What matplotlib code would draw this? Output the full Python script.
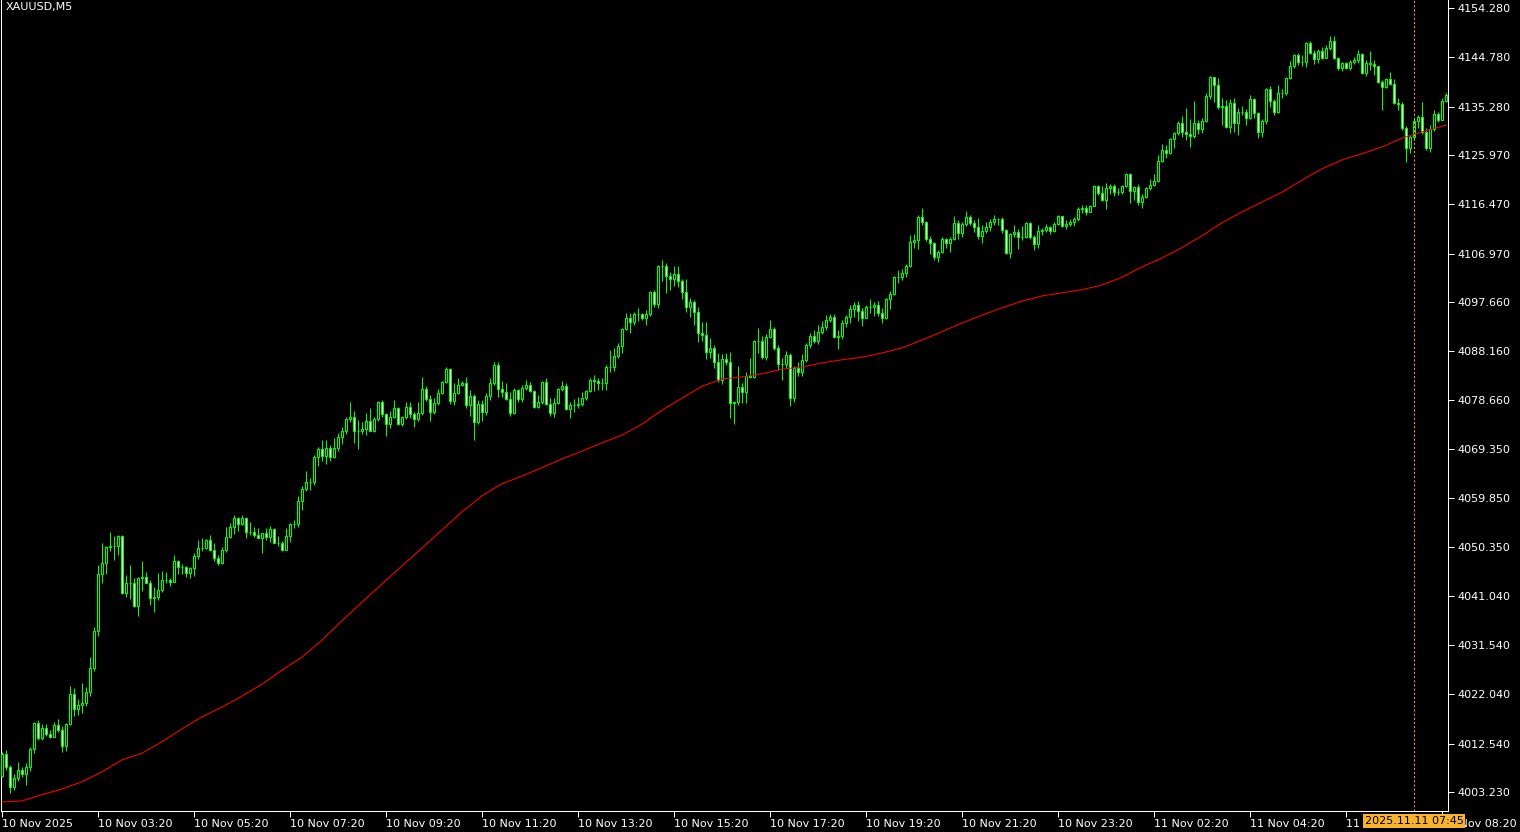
import numpy as np
import matplotlib
matplotlib.use("Agg")
import matplotlib.pyplot as plt
from matplotlib import transforms

# XAUUSD M5, 10 Nov 2025 01:20 -> 11 Nov 2025 08:25 (one value per bar)
first_open = 4006.3

closes = [
    4010.5, 4008.0, 4004.2, 4005.9, 4007.5, 4006.7, 4008.0, 4011.5, 4016.5, 4013.6,
    4015.6, 4014.4, 4013.8, 4016.1, 4015.2, 4012.1, 4016.3, 4022.1, 4019.2, 4020.0,
    4020.4, 4022.5, 4027.1, 4034.2, 4045.2, 4047.3, 4050.4, 4050.6, 4050.6, 4052.5,
    4041.6, 4043.5, 4043.5, 4039.1, 4044.5, 4044.6, 4043.5, 4040.6, 4040.8, 4042.1,
    4044.1, 4044.1, 4043.7, 4047.7, 4046.6, 4046.6, 4045.4, 4046.4, 4048.7, 4050.2,
    4050.2, 4051.8, 4049.9, 4048.3, 4047.3, 4049.9, 4052.4, 4054.3, 4056.0, 4054.9,
    4056.0, 4053.3, 4053.3, 4052.7, 4052.2, 4053.1, 4052.4, 4053.9, 4051.2, 4051.2,
    4049.9, 4052.5, 4054.9, 4054.9, 4059.3, 4061.6, 4063.0, 4063.0, 4067.8, 4069.3,
    4068.0, 4069.5, 4067.8, 4069.5, 4071.6, 4072.8, 4075.1, 4075.5, 4072.8, 4072.8,
    4073.2, 4074.7, 4072.8, 4075.1, 4078.4, 4076.1, 4074.1, 4075.5, 4077.2, 4074.1,
    4075.5, 4077.4, 4076.1, 4075.1, 4076.2, 4080.9, 4078.9, 4076.4, 4078.2, 4080.1,
    4082.2, 4084.7, 4078.6, 4080.1, 4081.6, 4082.0, 4077.8, 4079.5, 4074.5, 4078.0,
    4076.4, 4079.5, 4082.0, 4085.5, 4080.9, 4080.3, 4078.9, 4076.2, 4080.7, 4078.9,
    4081.1, 4081.6, 4080.5, 4077.4, 4078.4, 4082.2, 4078.0, 4076.2, 4078.2, 4080.9,
    4081.4, 4077.0, 4077.8, 4077.8, 4078.0, 4079.1, 4080.5, 4082.6, 4082.4, 4082.0,
    4082.0, 4085.1, 4085.1, 4087.2, 4089.1, 4092.4, 4094.6, 4093.8, 4095.3, 4095.3,
    4094.6, 4095.3, 4099.6, 4097.2, 4104.6, 4104.6, 4102.6, 4102.1, 4103.0, 4101.7,
    4099.6, 4096.7, 4097.6, 4095.7, 4091.7, 4091.3, 4088.0, 4088.8, 4086.1, 4082.6,
    4086.6, 4086.1, 4078.2, 4078.4, 4081.3, 4080.3, 4083.4, 4083.2, 4090.1, 4090.1,
    4087.0, 4090.9, 4092.4, 4088.8, 4085.7, 4085.7, 4087.4, 4079.1, 4084.9, 4084.2,
    4086.5, 4089.3, 4091.1, 4090.1, 4091.9, 4092.8, 4094.2, 4094.7, 4090.9, 4091.1,
    4093.6, 4094.7, 4096.3, 4097.1, 4095.9, 4094.6, 4096.7, 4096.7, 4097.1, 4095.5,
    4094.6, 4098.2, 4099.2, 4102.4, 4102.4, 4103.2, 4104.6, 4109.2, 4109.6, 4114.0,
    4113.1, 4109.8, 4109.0, 4106.3, 4107.3, 4109.8, 4109.0, 4109.8, 4112.9, 4111.0,
    4112.7, 4114.0, 4112.9, 4112.1, 4110.4, 4111.3, 4112.1, 4113.1, 4113.6, 4113.6,
    4111.5, 4107.1, 4110.7, 4111.1, 4110.2, 4110.2, 4112.9, 4110.2, 4108.8, 4111.3,
    4111.5, 4112.1, 4111.3, 4112.7, 4114.2, 4112.3, 4112.7, 4113.1, 4113.6, 4115.6,
    4115.7, 4115.0, 4116.1, 4120.0, 4118.6, 4117.3, 4119.6, 4120.0, 4118.8, 4118.8,
    4120.0, 4122.3, 4119.0, 4119.8, 4116.9, 4117.9, 4119.6, 4120.2, 4121.0, 4124.8,
    4126.9, 4126.3, 4129.0, 4130.2, 4132.1, 4130.4, 4130.0, 4129.6, 4132.1, 4131.0,
    4132.5, 4137.3, 4141.0, 4139.4, 4135.2, 4135.4, 4131.3, 4136.0, 4132.1, 4134.2,
    4134.2, 4133.1, 4136.7, 4134.0, 4130.4, 4132.5, 4138.7, 4136.4, 4134.2, 4137.9,
    4137.9, 4140.8, 4143.1, 4145.2, 4143.9, 4143.9, 4147.5, 4145.6, 4144.5, 4146.0,
    4144.6, 4146.6, 4147.9, 4144.6, 4142.7, 4143.7, 4142.7, 4143.9, 4144.3, 4145.4,
    4141.8, 4143.7, 4143.5, 4143.1, 4140.0, 4139.1, 4140.6, 4139.6, 4136.0, 4135.8,
    4131.2, 4127.3, 4129.4, 4132.5, 4133.3, 4130.4, 4127.3, 4131.0, 4133.9, 4132.7,
    4136.4, 4137.5,
]

highs = [
    4010.9, 4011.3, 4008.4, 4006.7, 4009.0, 4008.0, 4008.8, 4011.9, 4016.7, 4017.1,
    4016.3, 4016.3, 4015.2, 4016.7, 4017.3, 4015.9, 4016.5, 4023.7, 4023.3, 4021.1,
    4024.2, 4023.5, 4029.2, 4035.0, 4047.0, 4051.2, 4050.6, 4053.3, 4052.5, 4052.7,
    4052.7, 4045.0, 4047.0, 4044.5, 4044.6, 4047.7, 4045.6, 4044.1, 4042.7, 4045.4,
    4045.8, 4045.6, 4044.5, 4048.9, 4047.9, 4047.2, 4046.8, 4046.6, 4049.3, 4051.8,
    4052.2, 4052.0, 4052.7, 4051.2, 4048.9, 4050.4, 4054.3, 4055.1, 4056.6, 4056.2,
    4056.6, 4056.2, 4055.2, 4054.3, 4054.1, 4053.1, 4054.1, 4054.5, 4054.1, 4052.5,
    4051.6, 4054.1, 4055.1, 4055.6, 4060.3, 4062.2, 4065.1, 4063.7, 4068.2, 4069.7,
    4071.0, 4071.0, 4070.1, 4071.4, 4072.4, 4073.5, 4075.5, 4078.4, 4076.6, 4074.9,
    4074.5, 4076.2, 4077.2, 4075.5, 4078.6, 4078.8, 4076.2, 4076.6, 4078.8, 4077.4,
    4075.7, 4078.4, 4078.4, 4076.4, 4078.4, 4083.2, 4081.5, 4079.7, 4079.1, 4080.9,
    4082.4, 4085.1, 4084.9, 4082.0, 4083.0, 4082.4, 4083.2, 4080.7, 4079.9, 4078.8,
    4078.8, 4080.1, 4083.0, 4086.1, 4086.1, 4082.4, 4082.0, 4080.3, 4081.1, 4080.9,
    4081.6, 4082.6, 4082.2, 4080.7, 4079.7, 4082.4, 4083.0, 4079.1, 4079.1, 4081.1,
    4082.4, 4082.0, 4078.4, 4078.9, 4079.3, 4080.3, 4080.7, 4083.0, 4083.6, 4083.0,
    4083.0, 4085.5, 4088.4, 4088.8, 4089.7, 4092.6, 4095.5, 4095.5, 4095.7, 4096.5,
    4095.5, 4096.1, 4099.8, 4099.9, 4104.8, 4105.7, 4105.2, 4103.4, 4104.6, 4104.6,
    4102.1, 4102.1, 4098.4, 4098.0, 4096.7, 4093.8, 4093.8, 4090.7, 4089.4, 4087.8,
    4087.6, 4087.8, 4088.0, 4078.6, 4085.3, 4082.0, 4084.2, 4086.8, 4090.3, 4092.6,
    4091.1, 4091.5, 4094.2, 4092.8, 4089.4, 4086.8, 4088.2, 4087.8, 4085.3, 4086.1,
    4087.6, 4089.7, 4091.7, 4092.2, 4093.2, 4094.0, 4095.1, 4095.3, 4095.3, 4092.2,
    4094.2, 4095.1, 4097.1, 4097.6, 4097.8, 4096.5, 4097.1, 4098.2, 4097.6, 4097.8,
    4096.5, 4098.4, 4099.8, 4102.6, 4103.8, 4104.0, 4104.9, 4110.5, 4110.7, 4114.4,
    4115.7, 4113.2, 4110.3, 4109.2, 4107.7, 4110.2, 4110.0, 4110.2, 4114.2, 4113.4,
    4113.1, 4115.2, 4114.4, 4113.4, 4113.8, 4112.5, 4113.1, 4113.6, 4114.4, 4113.8,
    4114.0, 4111.7, 4110.9, 4112.5, 4111.7, 4112.3, 4113.1, 4113.1, 4110.5, 4112.5,
    4111.9, 4112.7, 4112.3, 4113.1, 4114.4, 4114.2, 4113.4, 4113.6, 4114.0, 4115.9,
    4116.3, 4116.3, 4116.3, 4120.2, 4120.2, 4120.0, 4120.6, 4120.4, 4120.4, 4119.6,
    4120.2, 4122.5, 4122.5, 4120.0, 4120.4, 4118.4, 4119.8, 4121.3, 4122.3, 4125.9,
    4128.1, 4127.9, 4129.2, 4130.4, 4132.5, 4133.5, 4135.0, 4132.9, 4136.4, 4132.7,
    4133.1, 4137.9, 4141.2, 4141.0, 4140.8, 4136.9, 4136.6, 4136.7, 4136.9, 4135.0,
    4135.4, 4134.8, 4137.5, 4136.9, 4134.2, 4132.9, 4138.9, 4139.3, 4136.7, 4139.4,
    4138.7, 4141.0, 4144.1, 4145.4, 4145.6, 4145.2, 4147.7, 4147.9, 4146.2, 4146.4,
    4146.8, 4147.1, 4148.9, 4148.9, 4144.8, 4143.9, 4143.9, 4144.3, 4144.8, 4146.2,
    4145.6, 4144.3, 4146.0, 4144.3, 4143.1, 4140.4, 4140.8, 4141.9, 4140.6, 4136.9,
    4136.2, 4131.5, 4129.8, 4133.1, 4133.7, 4136.2, 4131.2, 4131.7, 4134.6, 4134.2,
    4136.9, 4137.9,
]

lows = [
    4006.1, 4007.5, 4003.0, 4003.6, 4005.3, 4006.1, 4004.6, 4007.3, 4010.7, 4013.2,
    4013.2, 4014.0, 4013.6, 4013.8, 4014.8, 4010.9, 4011.1, 4016.1, 4017.9, 4018.1,
    4018.4, 4019.8, 4021.7, 4026.5, 4033.3, 4043.5, 4045.2, 4049.7, 4047.9, 4048.9,
    4041.4, 4040.8, 4040.4, 4038.9, 4037.1, 4041.9, 4043.5, 4039.2, 4037.9, 4040.2,
    4041.8, 4043.5, 4042.9, 4043.7, 4045.2, 4045.2, 4044.6, 4044.5, 4044.8, 4048.1,
    4049.7, 4050.0, 4049.7, 4047.7, 4047.0, 4047.2, 4049.5, 4052.2, 4052.9, 4053.5,
    4054.7, 4052.2, 4052.7, 4052.4, 4052.2, 4049.3, 4051.8, 4051.4, 4051.2, 4050.6,
    4049.7, 4049.9, 4051.4, 4054.1, 4054.3, 4057.6, 4061.2, 4061.4, 4062.4, 4066.0,
    4067.0, 4066.4, 4067.0, 4067.6, 4068.9, 4070.3, 4072.2, 4074.5, 4070.5, 4069.3,
    4072.2, 4072.0, 4072.8, 4072.6, 4074.7, 4075.5, 4071.8, 4073.4, 4075.3, 4073.9,
    4073.7, 4075.1, 4075.3, 4073.5, 4074.7, 4075.9, 4078.6, 4074.7, 4076.1, 4077.8,
    4079.9, 4082.0, 4078.0, 4077.8, 4079.9, 4081.4, 4077.2, 4075.7, 4071.0, 4074.1,
    4074.7, 4075.9, 4078.8, 4081.6, 4079.3, 4079.3, 4078.8, 4075.7, 4076.1, 4078.4,
    4078.4, 4080.7, 4080.3, 4077.2, 4077.2, 4078.0, 4077.8, 4075.7, 4075.5, 4078.0,
    4080.5, 4076.8, 4075.3, 4076.4, 4077.2, 4077.6, 4078.8, 4080.3, 4080.5, 4080.7,
    4080.7, 4080.7, 4084.2, 4084.3, 4086.8, 4087.8, 4092.2, 4091.7, 4093.2, 4094.0,
    4094.2, 4093.2, 4094.9, 4096.7, 4096.5, 4101.7, 4099.4, 4100.0, 4100.7, 4100.5,
    4098.2, 4095.7, 4094.7, 4093.2, 4089.9, 4090.1, 4086.6, 4086.8, 4084.9, 4082.2,
    4081.8, 4085.5, 4075.3, 4074.1, 4077.8, 4078.2, 4078.2, 4083.0, 4083.0, 4087.8,
    4086.6, 4086.5, 4090.7, 4088.4, 4084.5, 4082.6, 4084.9, 4077.6, 4078.4, 4083.4,
    4083.4, 4086.1, 4088.8, 4089.7, 4089.5, 4091.5, 4092.2, 4093.8, 4090.7, 4088.6,
    4090.5, 4092.8, 4093.6, 4094.7, 4094.0, 4093.0, 4094.6, 4095.5, 4094.9, 4094.9,
    4093.6, 4094.4, 4096.3, 4099.0, 4101.3, 4101.9, 4102.4, 4104.4, 4108.0, 4107.8,
    4112.5, 4109.4, 4106.9, 4105.7, 4105.3, 4107.1, 4108.0, 4107.3, 4109.6, 4109.8,
    4110.2, 4112.3, 4112.5, 4111.1, 4109.8, 4109.0, 4110.9, 4111.3, 4112.5, 4112.5,
    4110.9, 4106.9, 4106.1, 4110.2, 4107.8, 4109.6, 4110.0, 4109.8, 4107.7, 4108.0,
    4110.5, 4111.1, 4110.7, 4111.1, 4112.5, 4112.1, 4111.7, 4112.3, 4112.3, 4113.2,
    4114.8, 4114.4, 4115.7, 4116.1, 4118.3, 4117.1, 4115.6, 4118.4, 4118.0, 4118.3,
    4118.4, 4119.8, 4116.7, 4117.3, 4116.3, 4115.7, 4117.7, 4119.2, 4120.0, 4120.8,
    4124.6, 4125.4, 4126.1, 4127.3, 4129.8, 4129.4, 4128.8, 4127.5, 4129.2, 4130.0,
    4130.2, 4132.3, 4136.7, 4136.2, 4134.8, 4131.7, 4131.2, 4130.2, 4130.4, 4129.8,
    4133.7, 4131.7, 4132.9, 4133.1, 4129.2, 4129.4, 4131.9, 4135.2, 4133.7, 4134.0,
    4136.9, 4137.5, 4140.6, 4142.7, 4143.3, 4143.1, 4142.9, 4145.4, 4143.5, 4143.7,
    4144.5, 4144.6, 4146.2, 4144.5, 4142.3, 4142.1, 4142.5, 4142.3, 4143.5, 4143.7,
    4141.6, 4141.2, 4142.3, 4141.4, 4139.8, 4134.6, 4138.9, 4139.4, 4135.8, 4134.6,
    4130.8, 4124.6, 4126.3, 4128.9, 4131.2, 4130.0, 4126.9, 4126.5, 4130.6, 4132.3,
    4133.1, 4136.2,
]

# moving average, read every 5 bars
ma_bars = list(range(0, 360, 5)) + [361]
ma_values = [
    4001.3, 4001.5, 4002.7, 4003.8, 4005.2, 4007.1, 4009.4, 4010.7, 4012.9, 4015.4,
    4017.7, 4019.6, 4021.7, 4024.0, 4026.7, 4029.2, 4032.5, 4036.2, 4039.8, 4043.3,
    4046.8, 4050.2, 4053.7, 4057.2, 4060.3, 4062.6, 4064.1, 4065.7, 4067.4, 4068.9,
    4070.5, 4072.0, 4074.1, 4076.8, 4079.1, 4081.4, 4082.8, 4083.2, 4083.8, 4084.7,
    4085.1, 4085.9, 4086.5, 4087.0, 4087.8, 4088.8, 4090.3, 4091.9, 4093.6, 4095.1,
    4096.5, 4097.8, 4098.8, 4099.4, 4100.0, 4100.9, 4102.4, 4104.4, 4106.1, 4108.1,
    4110.4, 4112.9, 4115.0, 4116.9, 4118.8, 4121.1, 4123.3, 4125.0, 4126.2, 4127.5,
    4129.2, 4130.4, 4131.7,
]

time_labels = [
    "10 Nov 2025", "10 Nov 03:20", "10 Nov 05:20", "10 Nov 07:20", "10 Nov 09:20",
    "10 Nov 11:20", "10 Nov 13:20", "10 Nov 15:20", "10 Nov 17:20", "10 Nov 19:20",
    "10 Nov 21:20", "10 Nov 23:20", "11 Nov 02:20", "11 Nov 04:20", "11 Nov 06:20",
    "11 Nov 08:20",
]
bars_per_label = 24

price_ticks = [
    4154.280, 4144.780, 4135.280, 4125.970, 4116.470, 4106.970, 4097.660, 4088.160,
    4078.660, 4069.350, 4059.850, 4050.350, 4041.040, 4031.540, 4022.040, 4012.540,
    4003.230,
]

cursor_bar = 353
cursor_label = "2025.11.11 07:45"
symbol = "XAUUSD,M5"

BG = "black"
FG = "white"
CANDLE = "#00FF00"

opens = np.array([first_open] + closes[:-1])
closes = np.array(closes)
highs = np.maximum(np.array(highs), np.maximum(opens, closes))
lows = np.minimum(np.array(lows), np.minimum(opens, closes))
x = np.arange(len(closes))

plt.rcParams["font.family"] = ["DejaVu Sans"]
plt.rcParams["font.size"] = 8

W, H = 1520, 832
fig = plt.figure(figsize=(W / 100, H / 100), dpi=100, facecolor=BG)
ax = fig.add_axes([1 / W, (H - 811) / H, 1447 / W, 811 / H], facecolor=BG)

# wicks
ax.vlines(x, lows, highs, color=CANDLE, linewidth=0.75, zorder=2)

# bodies: bullish hollow (black), bearish filled white
up = closes >= opens
bottoms = np.minimum(opens, closes)
heights = np.abs(closes - opens)
ax.bar(x[up], heights[up], bottom=bottoms[up], width=0.5,
       color=BG, edgecolor=CANDLE, linewidth=0.75, zorder=3)
ax.bar(x[~up], heights[~up], bottom=bottoms[~up], width=0.5,
       color=FG, edgecolor=CANDLE, linewidth=0.75, zorder=3)

ax.plot(ma_bars, ma_values, color="#FF0000", linewidth=0.75, zorder=4)

ax.axvline(cursor_bar, color="#FFA500", linewidth=0.75,
           linestyle=(0, (2, 2)), zorder=5)

ax.set_xlim(-0.25, 361.5)
ax.set_ylim(3999.56, 4155.82)

ax.set_xticks(np.arange(len(time_labels)) * bars_per_label)
ax.set_xticklabels(time_labels)
for lbl in ax.get_xticklabels():
    lbl.set_horizontalalignment("left")
ax.yaxis.tick_right()
ax.set_yticks(price_ticks)
ax.set_yticklabels([f"{p:.3f}" for p in price_ticks])
ax.tick_params(axis="both", colors=FG, labelcolor=FG, length=4, width=0.75,
               direction="out", labelsize=8)
ax.tick_params(axis="x", pad=2)
ax.tick_params(axis="y", pad=3)

for side in ("left", "bottom", "right"):
    ax.spines[side].set_color(FG)
    ax.spines[side].set_linewidth(0.75)
ax.spines["top"].set_visible(False)

ax.text(0.003, 0.997, symbol, transform=ax.transAxes, color=FG,
        fontsize=8, va="top", ha="left")

trans = transforms.blended_transform_factory(ax.transData, ax.transAxes)
ax.text(cursor_bar, -0.006, cursor_label, transform=trans, color="black",
        fontsize=8, va="top", ha="center", clip_on=False, zorder=10,
        bbox=dict(boxstyle="square,pad=0.15", facecolor="#F7B32B",
                  edgecolor="none"))

fig.savefig("out.png", dpi=100, facecolor=BG)
